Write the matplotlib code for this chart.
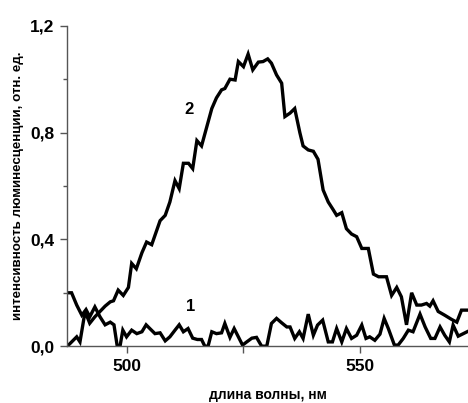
import matplotlib
matplotlib.use('Agg')
import matplotlib.pyplot as plt
from matplotlib.ticker import MultipleLocator, FixedLocator

# curve 2: luminescence spectrum
wl2 = [487.2, 489.2, 489.9, 491.0, 492.0, 493.1, 494.2, 495.3, 496.4, 497.1,
       498.1, 499.2, 500.3, 501.0, 502.0, 503.2, 504.2, 505.3, 506.4, 507.1,
       508.2, 509.2, 510.3, 511.2, 512.1, 513.2, 514.1, 515.0, 516.0, 517.1,
       518.2, 519.2, 520.3, 521.0, 522.1, 523.2, 523.9, 525.0, 526.0, 527.0,
       528.2, 529.2, 530.2, 531.0, 532.1, 533.2, 533.9, 535.0, 536.0, 537.1,
       537.8, 538.9, 540.0, 541.0, 542.1, 543.2, 544.3, 545.0, 546.1, 547.1,
       548.2, 549.3, 550.4, 551.8, 552.9, 554.0, 555.7, 556.8, 557.9, 558.9,
       560.0, 561.1, 562.2, 563.2, 564.3, 565.0, 565.7, 566.8, 568.2, 569.7,
       570.8, 571.8, 573.2]
int2 = [0.0, 0.035, 0.016, 0.13, 0.086, 0.11, 0.13, 0.15, 0.166, 0.17,
        0.21, 0.19, 0.22, 0.31, 0.29, 0.35, 0.39, 0.38, 0.435, 0.47,
        0.49, 0.54, 0.62, 0.59, 0.685, 0.685, 0.665, 0.77, 0.75, 0.82,
        0.89, 0.93, 0.96, 0.965, 1.0, 0.997, 1.066, 1.047, 1.094, 1.035,
        1.064, 1.066, 1.076, 1.06, 1.016, 0.985, 0.86, 0.873, 0.89, 0.80,
        0.75, 0.735, 0.73, 0.70, 0.585, 0.54, 0.51, 0.49, 0.50, 0.44,
        0.42, 0.41, 0.366, 0.366, 0.27, 0.26, 0.26, 0.19, 0.22, 0.185,
        0.08, 0.2, 0.154, 0.154, 0.16, 0.15, 0.17, 0.13, 0.116, 0.10,
        0.09, 0.135, 0.135]

# curve 1: background
wl1 = [487.1, 488.1, 489.2, 490.3, 491.2, 492.0, 493.1, 494.2, 495.3, 496.4,
       497.2, 497.9, 498.5, 499.1, 499.9, 501.0, 502.1, 503.2, 504.1, 504.9,
       506.0, 507.1, 508.2, 509.2, 510.3, 511.2, 512.1, 513.1, 514.1, 515.1,
       516.0, 516.7, 517.4, 518.2, 519.2, 520.3, 521.0, 522.1, 523.0, 523.9,
       524.8, 525.7, 526.8, 527.8, 528.9, 530.0, 531.0, 532.1, 533.2, 534.3,
       535.0, 536.0, 537.0, 537.8, 538.9, 540.0, 540.9, 542.0, 543.2, 544.1,
       545.0, 546.1, 547.1, 548.2, 549.3, 550.4, 551.3, 552.1, 553.2, 554.3,
       555.2, 556.1, 557.4, 558.2, 559.3, 560.4, 561.4, 562.9, 564.0, 565.2,
       566.1, 567.2, 568.2, 569.2, 570.0, 571.1, 572.2, 573.0]
int1 = [0.2, 0.2, 0.154, 0.116, 0.137, 0.11, 0.147, 0.11, 0.08, 0.09,
        0.08, 0.0, 0.0, 0.06, 0.035, 0.06, 0.047, 0.054, 0.08, 0.066,
        0.047, 0.05, 0.02, 0.035, 0.06, 0.08, 0.054, 0.066, 0.03, 0.025,
        0.025, 0.0, 0.0, 0.054, 0.047, 0.05, 0.085, 0.033, 0.066, 0.035,
        0.004, 0.016, 0.03, 0.033, 0.0, 0.0, 0.085, 0.104, 0.0875, 0.072,
        0.072, 0.029, 0.054, 0.029, 0.12, 0.041, 0.079, 0.0975, 0.016, 0.016,
        0.066, 0.016, 0.066, 0.029, 0.041, 0.079, 0.029, 0.035, 0.022, 0.045,
        0.104, 0.066, 0.004, 0.004, 0.029, 0.06, 0.054, 0.12, 0.072, 0.029,
        0.029, 0.072, 0.041, 0.016, 0.079, 0.0375, 0.047, 0.054]

yticks = [0, 0.4, 0.8, 1.2]
ytick_labels = ['0,0', '0,4', '0,8', '1,2']

plt.rcParams['font.family'] = ['Liberation Sans', 'DejaVu Sans']
plt.rcParams['font.weight'] = 'bold'

fig = plt.figure(figsize=(4.68, 4.03), dpi=100)
ax = fig.add_axes([0.143, 0.141, 0.857, 0.795])

ax.plot(wl2, int2, color='black', lw=2.4, solid_joinstyle='miter')
ax.plot(wl1, int1, color='black', lw=2.4, solid_joinstyle='miter')

ax.text(513.2, 0.885, '2', fontsize=12, fontweight='bold', ha='center', va='center')
ax.text(513.7, 0.15, '1', fontsize=12, fontweight='bold', ha='center', va='center')

ax.set_xlim(487.1, 573.2)
ax.set_ylim(0, 1.2)
ax.spines['top'].set_visible(False)
ax.spines['right'].set_visible(False)
for s in ('left', 'bottom'):
    ax.spines[s].set_color('#555555')
    ax.spines[s].set_linewidth(1.0)

ax.xaxis.set_major_locator(FixedLocator([500, 550]))
ax.xaxis.set_minor_locator(FixedLocator([525]))
ax.set_yticks(yticks)
ax.set_yticklabels(ytick_labels)
ax.yaxis.set_minor_locator(MultipleLocator(0.2))
ax.tick_params(which='both', direction='out', color='#555555', width=1.0)
ax.tick_params(which='major', length=5, labelsize=12.5, pad=4)
ax.tick_params(axis='x', which='minor', length=5)
ax.tick_params(axis='y', which='minor', length=3)

ax.set_xlabel('длина волны, нм', fontsize=10, fontweight='bold', labelpad=10)
ax.set_ylabel('интенсивность люминесценции, отн. ед.', fontsize=9.6,
              fontweight='bold', labelpad=4)

fig.savefig('out.png', dpi=100)
